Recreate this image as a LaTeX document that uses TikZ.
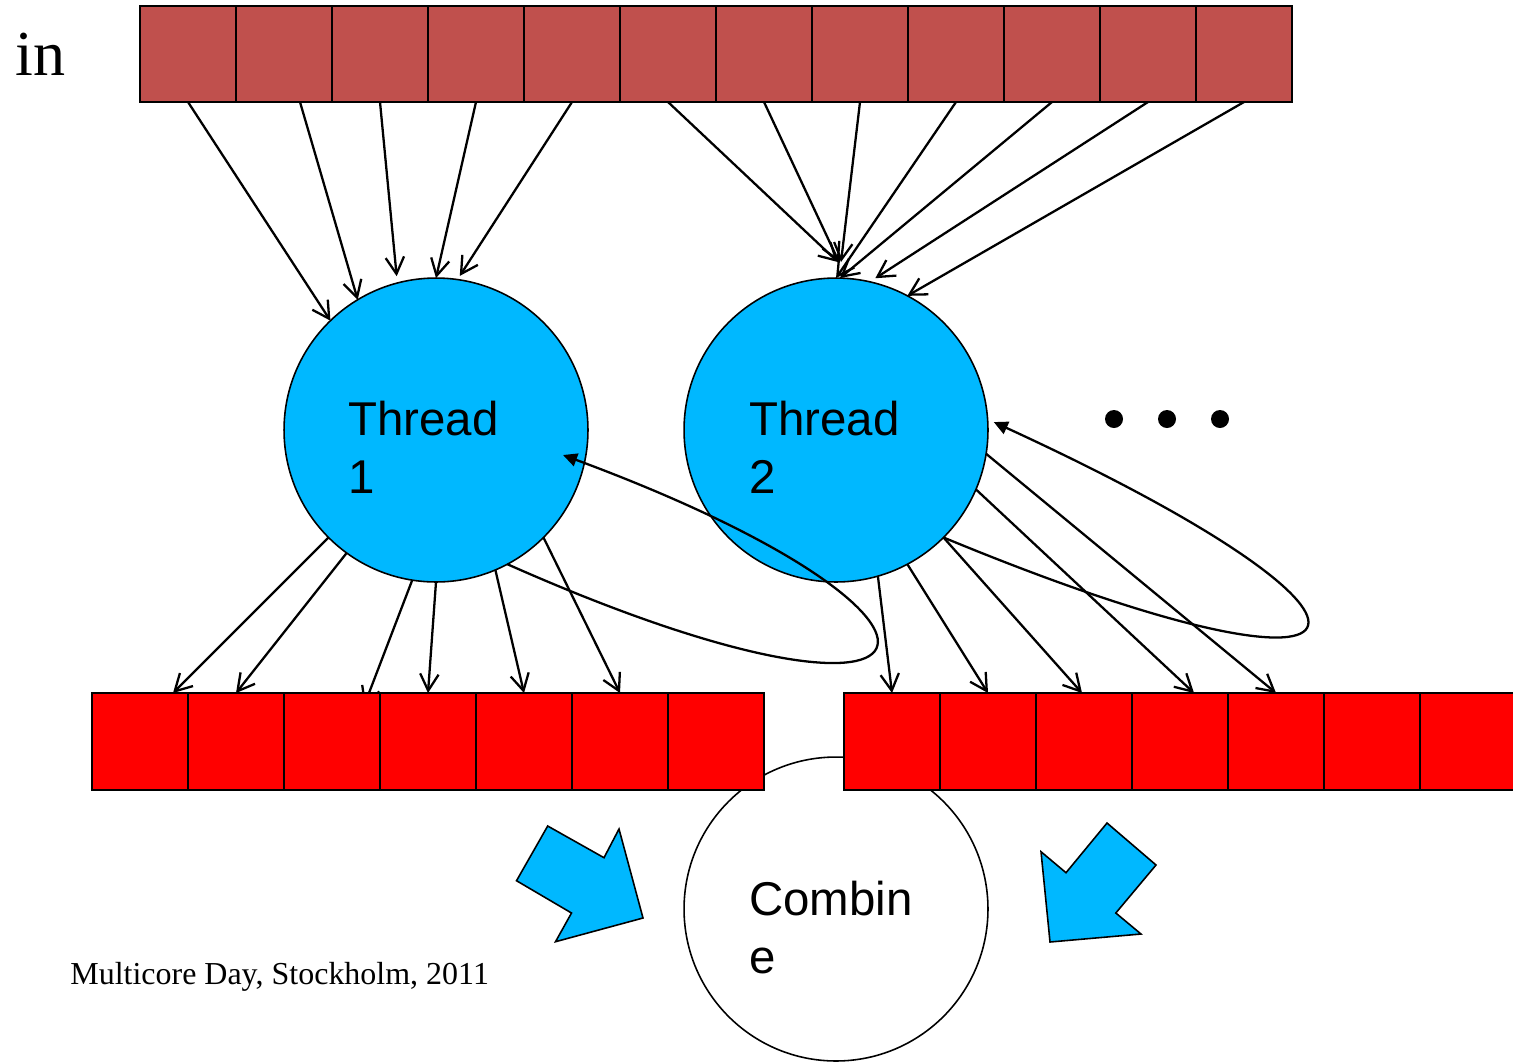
\documentclass[tikz,border=0pt]{standalone}
\usepackage{fontspec}
\setmainfont{Liberation Serif}
\setsansfont{Liberation Sans}
\usetikzlibrary{arrows.meta,calc}

\definecolor{inred}{RGB}{192,80,77}
\definecolor{outred}{RGB}{255,0,0}
\definecolor{threadblue}{RGB}{0,184,255}

\begin{document}
\begin{tikzpicture}[x=0.02cm,y=-0.02cm,
  incell/.style={draw=black, line width=1.3pt, fill=inred, minimum width=1.92cm,
    minimum height=1.92cm, inner sep=0, outer sep=0},
  outcell/.style={draw=black, line width=1.3pt, fill=outred, minimum width=1.92cm,
    minimum height=1.94cm, inner sep=0, outer sep=0},
  thread/.style={circle, draw=black, line width=0.9pt, fill=threadblue,
    minimum size=6.08cm, inner sep=0, outer sep=0},
  combiner/.style={circle, draw=black, line width=0.9pt, fill=white,
    minimum size=6.08cm, inner sep=0, outer sep=0},
  sanstext/.style={font=\sffamily\fontsize{27}{30}\selectfont, inner sep=0, anchor=base west},
  feed/.style={line width=1.3pt, -{Straight Barb[length=9.5pt,width=10.5pt]}},
  loopback/.style={line width=1.3pt, -{Triangle[length=8pt,width=7.5pt]}},
  bigarrow/.style={draw=black, line width=0.9pt, fill=threadblue, line join=miter},
  dot/.style={circle, fill=black, minimum size=0.36cm, inner sep=0}
]
\useasboundingbox (0,0) rectangle (1513,1062);
\clip (0,0) rectangle (1513,1062);
\fill[white] (0,0) rectangle (1513,1062);

% combining step, partly hidden under the output arrays
\node[combiner] (comb) at (836,909) {};

% thread circles
\node[thread] (th1) at (436,430) {};
\node[thread] (th2) at (836,430) {};

% write whose tip disappears under the output array
\coordinate (hiddentip) at (364,706);
\draw[feed] (th1.261) -- (hiddentip);

% output arrays
\foreach \i in {1,...,7} {
  \node[outcell] (b\i) at ({140+96*(\i-1)},741.5) {};
  \node[outcell] (r\i) at ({892+96*(\i-1)},741.5) {};
}

% input array
\foreach \i in {1,...,12}
  \node[incell] (t\i) at ({188+96*(\i-1)},54) {};

% reads by thread 1
\draw[feed] (t1.south) -- (th1.134);
\draw[feed] ([xshift=0.32cm]t2.south) -- (th1.121);
\draw[feed] (t3.south) -- ([yshift=0.14cm]th1.105);
\draw[feed] (t4.south) -- (th1.north);
\draw[feed] (t5.south) -- ([yshift=0.08cm]th1.81);

% reads by thread 2
\draw[feed] (t6.south) -- ([xshift=0.04cm,yshift=0.32cm]th2.north);
\draw[feed] (t7.south) -- ([xshift=0.06cm,yshift=0.32cm]th2.north);
\draw[feed] (t8.south) -- ([xshift=0.1cm,yshift=0.32cm]th2.north);
\draw[feed] (t9.south) -- (th2.north);
\draw[feed] (t10.south) -- ([xshift=0.08cm]th2.north);
\draw[feed] (t11.south) -- ([yshift=0.1cm]th2.75);
\draw[feed] (t12.south) -- (th2.62);

% writes by thread 1
\draw[feed] (th1.225) -- ([xshift=0.66cm]b1.north);
\draw[feed] (th1.234) -- (b2.north);
\draw[feed] (th1.270) -- (b4.north);
\draw[feed] (th1.293) -- (b5.north);
\draw[feed] (th1.315) -- (b6.north);

% writes by thread 2
\draw[feed] (th2.286) -- (r1.north);
\draw[feed] (th2.298) -- (r2.north);
\draw[feed] (th2.315) -- ([xshift=-0.04cm]r3.north);
\draw[feed] (th2.337) -- ([xshift=0.28cm]r4.north);
\draw[feed] (th2.351) -- (r5.north);

% feedback loops
\draw[loopback] (th1.298) .. controls (962,766) and (1014,622) ..
  ([xshift=-0.5cm,yshift=-0.5cm]th1.east);
\draw[loopback] (th2.315) .. controls (1394,724) and (1442,628) ..
  ([xshift=0.12cm]th2.3);

% more threads
\node[dot] (dot1) at (1114,419) {};
\node[dot] (dot2) at (1167,419) {};
\node[dot] (dot3) at (1220,419) {};

% block arrows into the combining step
\filldraw[bigarrow] (547.7,826) -- (604,857.7) -- (619,829) -- (643,918)
  -- (555.5,941.7) -- (571.5,913) -- (516.5,880.7) -- cycle;
\filldraw[bigarrow] (1107,823) -- (1156,865) -- (1115.8,913) -- (1141,934)
  -- (1050,942) -- (1041,851.7) -- (1066,872.7) -- cycle;

% texts
\node[sanstext] (th1a) at (348,435) {Thread};
\node[sanstext] (th1b) at (348,493) {1};
\node[sanstext] (th2a) at (749,435) {Thread};
\node[sanstext] (th2b) at (749,493) {2};
\node[sanstext] (cba) at (749,915) {Combin};
\node[sanstext] (cbb) at (749,973) {e};
\node[font=\fontsize{36.5}{40}\selectfont, inner sep=0, anchor=base west] (inlabel) at (15,75) {in};
\node[font=\fontsize{18.2}{22}\selectfont, inner sep=0, anchor=base west] (footer) at (70,984)
  {Multicore Day, Stockholm, 2011};
\end{tikzpicture}
\end{document}
